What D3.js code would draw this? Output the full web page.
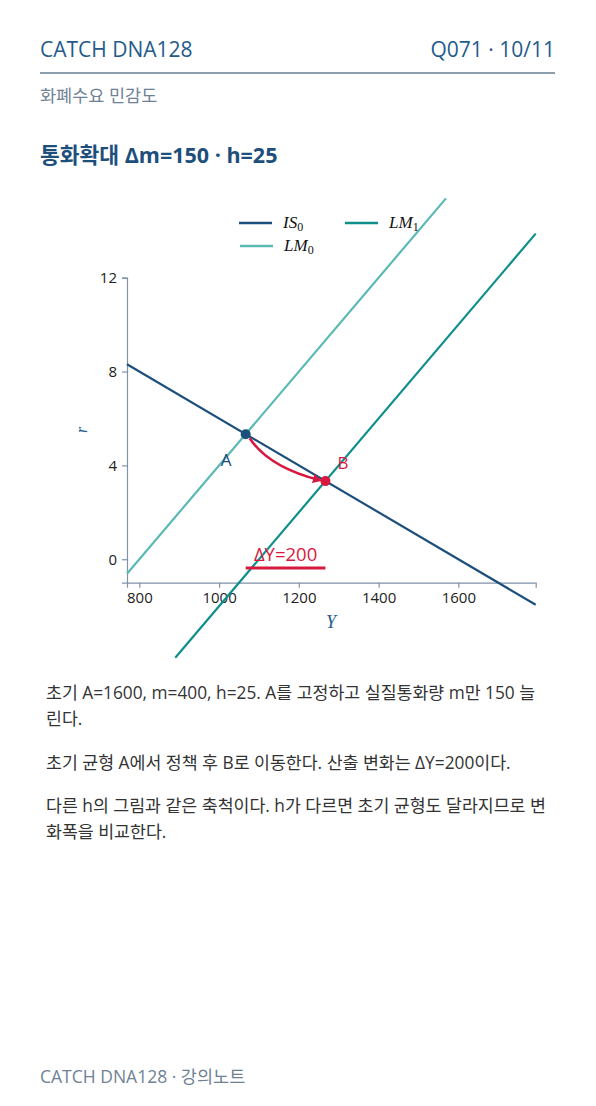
<!DOCTYPE html>
<html><head><meta charset="utf-8">
<script src="https://cdn.jsdelivr.net/npm/d3@7"></script>
<style>
html,body{margin:0;padding:0;background:#fff;}
svg text{font-family:"Open Sans","Noto Sans CJK KR",sans-serif;}
.math{font-family:"Liberation Serif","DejaVu Serif",serif;font-style:italic;}
</style></head>
<body>
<svg id="c" width="596" height="1106"></svg>
<script>
// ---- data ----
const xTicks = [800, 1000, 1200, 1400, 1600];
const yTicks = [0, 4, 8, 12];
const xDomain = [769, 1794];
const yDomain = [-1, 12];
// IS0: r = 16 - Y/100 ; LM0: r = 0.02Y - 16 ; LM1: r = 0.02Y - 22
const isLine = [[769, 8.31], [1794, -1.94]];
const lm0Line = [[769, -0.62], [1569, 15.38]];
const lm1Line = [[890, -4.2], [1794, 13.88]];
const pointA = [1066.7, 5.33];
const pointB = [1266.7, 3.33];
const deltaLabel = "ΔY=200";
const bodyLines = [
  ["초기 A=1600, m=400, h=25. A를 고정하고 실질통화량 m만 150 늘", "린다."],
  ["초기 균형 A에서 정책 후 B로 이동한다. 산출 변화는 ΔY=200이다."],
  ["다른 h의 그림과 같은 축척이다. h가 다르면 초기 균형도 달라지므로 변", "화폭을 비교한다."]
];

const C = {is:"#1d4f7c", lm0:"#5bb9b5", lm1:"#0f8f8c", red:"#d7193f", axis:"#7f93a8", head:"#245a8c", gray:"#6f8295"};

const svg = d3.select("#c");

// header
svg.append("text").attr("x",40).attr("y",57).attr("font-size",21).attr("fill",C.head).text("CATCH DNA128");
svg.append("text").attr("x",555).attr("y",57).attr("font-size",21).attr("fill",C.head).attr("text-anchor","end").text("Q071 · 10/11");
svg.append("line").attr("x1",40).attr("x2",555).attr("y1",73).attr("y2",73).attr("stroke","#1d3f60").attr("stroke-width",1.2);
svg.append("text").attr("x",40).attr("y",102).attr("font-size",17.5).attr("fill",C.gray).text("화폐수요 민감도");
svg.append("text").attr("x",40).attr("y",163).attr("font-size",21.5).attr("font-weight","bold").attr("fill",C.is).text("통화확대 Δm=150 · h=25");

const x = d3.scaleLinear().domain(xDomain).range([127, 535.7]);
const y = d3.scaleLinear().domain(yDomain).range([582.7, 277.7]);

// axes
const gx = svg.append("g").attr("transform",`translate(0,${y(yDomain[0])})`)
  .call(d3.axisBottom(x).tickValues(xTicks).tickFormat(d3.format("d")).tickSizeOuter(0).tickSize(5).tickPadding(5));
const gy = svg.append("g").attr("transform",`translate(${x(xDomain[0])},0)`)
  .call(d3.axisLeft(y).tickValues(yTicks).tickFormat(d3.format("d")).tickSizeOuter(0).tickSize(5).tickPadding(5));
[gx,gy].forEach(g=>{
  g.selectAll("path,line").attr("stroke",C.axis).attr("stroke-width",1.2);
  g.selectAll("text").attr("font-size",15).attr("fill","#222").style("font-family","'Open Sans','Noto Sans CJK KR',sans-serif");
});

svg.append("text").attr("class","math").attr("x",331).attr("y",628).attr("font-size",18).attr("fill",C.head).attr("text-anchor","middle").text("Y");
svg.append("text").attr("class","math").attr("transform","translate(87,430) rotate(-90)").attr("font-size",16).attr("fill",C.head).attr("text-anchor","middle").text("r");

const line = d3.line().x(d=>x(d[0])).y(d=>y(d[1]));
svg.append("path").datum(lm0Line).attr("d",line).attr("stroke",C.lm0).attr("stroke-width",2.2).attr("fill","none");
svg.append("path").datum(lm1Line).attr("d",line).attr("stroke",C.lm1).attr("stroke-width",2.2).attr("fill","none");
svg.append("path").datum(isLine).attr("d",line).attr("stroke",C.is).attr("stroke-width",2.2).attr("fill","none");

// arrow A -> B
svg.append("defs").append("marker").attr("id","ah").attr("viewBox","0 0 10 10").attr("refX",7).attr("refY",5)
  .attr("markerWidth",3.6).attr("markerHeight",3.6).attr("orient","auto")
  .append("path").attr("d","M0,0 L10,5 L0,10 Z").attr("fill",C.red);
const ax = x(pointA[0]), ay = y(pointA[1]), bx = x(pointB[0]), by = y(pointB[1]);
svg.append("path").attr("d",`M${ax+4},${ay+4} Q${ax+23},${ay+33} ${bx-6},${by-1}`)
  .attr("stroke",C.red).attr("stroke-width",2.6).attr("fill","none").attr("marker-end","url(#ah)");

svg.append("circle").attr("cx",ax).attr("cy",ay).attr("r",5).attr("fill",C.is);
svg.append("circle").attr("cx",bx).attr("cy",by).attr("r",5).attr("fill",C.red);
svg.append("text").attr("x",ax-25).attr("y",ay+32).attr("font-size",17).attr("fill",C.is).text("A");
svg.append("text").attr("x",bx+12).attr("y",by-12).attr("font-size",17).attr("fill",C.red).text("B");

// delta Y
const dyy = y(-0.37);
svg.append("line").attr("x1",ax).attr("x2",bx).attr("y1",dyy).attr("y2",dyy).attr("stroke",C.red).attr("stroke-width",3);
svg.append("text").attr("x",(ax+bx)/2).attr("y",dyy-7).attr("font-size",18.5).attr("fill",C.red).attr("text-anchor","middle").text(deltaLabel);

// legend
const leg = [
  {c:C.is, b:"IS", s:"0", x:239, y:223},
  {c:C.lm1, b:"LM", s:"1", x:345, y:223},
  {c:C.lm0, b:"LM", s:"0", x:240, y:246}
];
leg.forEach(d=>{
  svg.append("line").attr("x1",d.x).attr("x2",d.x+33).attr("y1",d.y).attr("y2",d.y).attr("stroke",d.c).attr("stroke-width",2.4);
  const t = svg.append("text").attr("class","math").attr("x",d.x+44).attr("y",d.y+5).attr("font-size",17).attr("fill","#111");
  t.append("tspan").text(d.b);
  t.append("tspan").attr("dy",3).attr("font-size",12).attr("font-style","normal").text(d.s);
});

// body
let yy = 699;
bodyLines.forEach((p,i)=>{
  p.forEach((l,j)=>{
    svg.append("text").attr("x",46).attr("y",yy).attr("font-size",17.3).attr("fill","#333").text(l);
    yy += 26;
  });
  yy += 17.5;
});

svg.append("text").attr("x",40).attr("y",1083).attr("font-size",17.5).attr("fill",C.gray).text("CATCH DNA128 · 강의노트");
</script>
</body></html>
